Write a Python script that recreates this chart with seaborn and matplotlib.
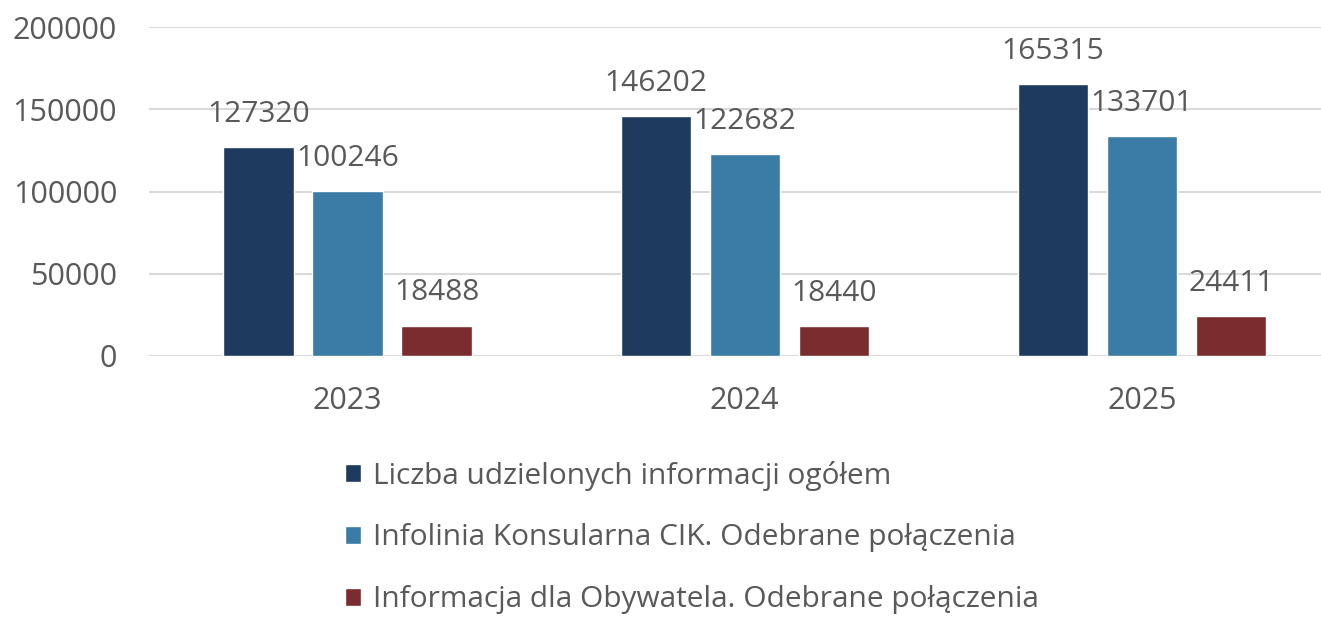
import matplotlib
matplotlib.use("Agg")
import matplotlib.pyplot as plt
import seaborn as sns
import pandas as pd

years = ["2023", "2024", "2025"]
series = [
    "Liczba udzielonych informacji ogółem",
    "Infolinia Konsularna CIK. Odebrane połączenia",
    "Informacja dla Obywatela. Odebrane połączenia",
]
total = [127320, 146202, 165315]
infolinia = [100246, 122682, 133701]
obywatel = [18488, 18440, 24411]
colors = ["#1F3A5F", "#3A7CA5", "#7B2C2E"]

df = pd.DataFrame({
    "year": years * 3,
    "series": [series[0]] * 3 + [series[1]] * 3 + [series[2]] * 3,
    "value": total + infolinia + obywatel,
})

sns.set_style("white")
plt.rcParams["font.family"] = ["Open Sans", "DejaVu Sans"]
gray = "#595959"

fig = plt.figure(figsize=(13.21, 6.19), dpi=100)
ax = fig.add_axes([0.1128, 0.425, 0.902, 0.531])

sns.barplot(data=df, x="year", y="value", hue="series", palette=colors,
            width=0.672, gap=0.21, errorbar=None, ax=ax, saturation=1)

for c in ax.containers:
    ax.bar_label(c, fmt="%d", padding=13, fontsize=21.5, color=gray)

ax.set_ylim(0, 200000)
ax.set_yticks([0, 50000, 100000, 150000, 200000])
ax.set_xlim(-0.5, 2.5)
ax.yaxis.grid(True, color="#D9D9D9", linewidth=1.5)
ax.set_axisbelow(True)
for s in ax.spines.values():
    s.set_visible(False)
ax.tick_params(axis="both", length=0, labelsize=22, labelcolor=gray)
ax.tick_params(axis="x", pad=22)
ax.tick_params(axis="y", pad=23)
ax.set_xlabel("")
ax.set_ylabel("")

handles, labels = ax.get_legend_handles_labels()
ax.legend_.remove()
fig.legend(handles, labels, loc="upper left", bbox_to_anchor=(0.261, 0.256),
           frameon=False, fontsize=21.5, labelcolor=gray, handlelength=0.55,
           handleheight=0.55, handletextpad=0.4, labelspacing=1.1,
           borderaxespad=0, borderpad=0)

fig.savefig("out.png", dpi=100)
